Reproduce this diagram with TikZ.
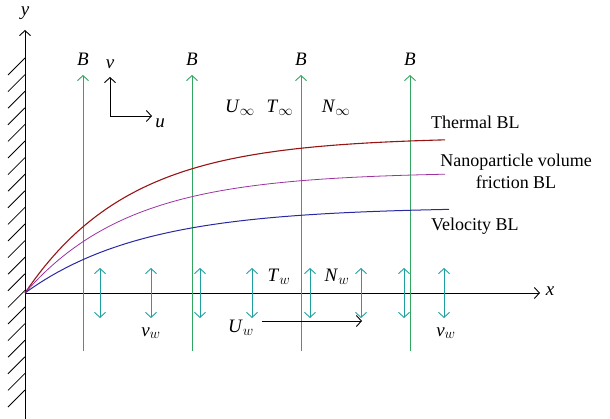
\documentclass[tikz,border=0pt]{standalone}
\usepackage{fontspec}
\setmainfont{Liberation Serif}
\usetikzlibrary{arrows.meta}
\definecolor{bgreen}{RGB}{50,165,95}
\definecolor{teal2}{RGB}{30,160,160}
\definecolor{cred}{RGB}{150,20,20}
\definecolor{cpurple}{RGB}{155,50,160}
\definecolor{cblue}{RGB}{40,40,160}
\begin{document}
\begin{tikzpicture}[x=1pt,y=-1pt,
  tip/.style={-{Straight Barb[length=5pt,width=11pt]}},
  dtip/.style={{Straight Barb[length=5pt,width=11pt]}-{Straight Barb[length=5pt,width=11pt]}},
  lbl/.style={inner sep=0pt,font=\fontsize{19}{21}\selectfont},
  blbl/.style={inner sep=0pt,font=\fontsize{18}{22}\selectfont,anchor=west},
  fieldline/.style={bgreen,line width=0.9pt,tip},
  suction/.style={teal2,line width=0.9pt,dtip},
  axis/.style={black,line width=0.9pt,tip}]
\useasboundingbox (0,0) rectangle (610,419);
% wall and axes
\coordinate (O) at (25,293);
\coordinate (ytip) at (25,30);
\coordinate (wallbot) at (25,419);
\coordinate (xtip) at (540,293);
\draw[axis] (wallbot) -- (ytip);
\draw[axis] (O) -- (xtip);
\node[lbl] (ylab) at (25,13) {\textit{y}};
\node[lbl] (xlab) at (550,291) {\textit{x}};
\foreach \k in {0,...,20}{
  \draw[line width=0.8pt] (25,{58+16.6*\k}) -- (8,{75+16.6*\k});
}
% field lines B
\foreach \xx/\n in {83/1,192/2,301/3,410/4}{
  \coordinate (gb\n) at (\xx,351);
  \coordinate (gt\n) at (\xx,75);
  \draw[fieldline] (gb\n) -- (gt\n);
  \node[lbl] (B\n) at (\xx,59) {\textit{B}};
}
% suction arrows
\foreach \xx/\n in {100/1,151/2,200/3,252/4,310/5,361/6,404/7,444/8}{
  \coordinate (st\n) at (\xx,268);
  \coordinate (sb\n) at (\xx,318);
  \draw[suction] (sb\n) -- (st\n);
}
% boundary layers
\draw[cred,line width=1.1pt] plot[domain=0:420,samples=90] ({25+\x},{293-156*(1-exp(-\x/105))});
\draw[cpurple,line width=0.8pt] plot[domain=0:420,samples=90] ({25+\x},{293-121*(1-exp(-\x/105))});
\draw[cblue,line width=1pt] plot[domain=0:424,samples=90] ({25+\x},{293-86*(1-exp(-\x/118))});
% u v axes
\coordinate (uvO) at (110,116);
\coordinate (vtip) at (110,77);
\coordinate (utip) at (152,116);
\draw[axis] (uvO) -- (vtip);
\draw[axis] (uvO) -- (utip);
\node[lbl] (vlab) at (110,64) {\textit{v}};
\node[lbl] (ulab) at (160,123) {\textit{u}};
% free stream labels
\node[lbl] (Uinf) at (240,108) {\textit{U}$_{\infty}$};
\node[lbl] (Tinf) at (280,108) {\textit{T}$_{\infty}$};
\node[lbl] (Ninf) at (336,108) {\textit{N}$_{\infty}$};
% wall labels
\node[lbl] (Tw) at (279,277) {\textit{T}$_{w}$};
\node[lbl] (Nw) at (337,277) {\textit{N}$_{w}$};
\node[lbl] (vw1) at (151,333) {\textit{v}$_{w}$};
\node[lbl] (vw2) at (446,333) {\textit{v}$_{w}$};
\node[lbl] (Uw) at (241,328) {\textit{U}$_{w}$};
\coordinate (uws) at (262,321);
\coordinate (uwe) at (362,321);
\draw[axis] (uws) -- (uwe);
% BL labels
\node[blbl] (thermal) at (431,122) {Thermal BL};
\node[blbl,align=center,anchor=center] (nano) at (516,171) {Nanoparticle volume\\friction BL};
\node[blbl] (vel) at (431,226) {Velocity BL};
\end{tikzpicture}
\end{document}
